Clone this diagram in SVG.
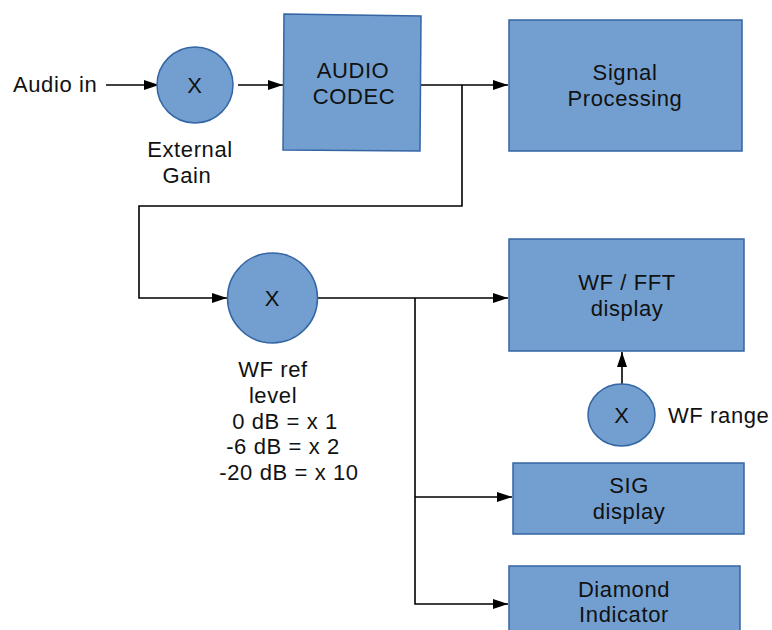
<svg xmlns="http://www.w3.org/2000/svg" width="772" height="630" viewBox="0 0 772 630">
<style>
.box{fill:#729fcf;stroke:#3465a4;stroke-width:1.5}
.t{font-family:"Liberation Sans",Arial,sans-serif;font-size:22px;letter-spacing:0.6px;fill:#111;text-anchor:middle}
.tl{font-family:"Liberation Sans",Arial,sans-serif;font-size:22px;letter-spacing:0.6px;fill:#111}
.ln{fill:none;stroke:#000;stroke-width:1.6}
</style>
<defs>
<marker id="ah" markerUnits="userSpaceOnUse" markerWidth="16" markerHeight="12" refX="15" refY="6" orient="auto">
<path d="M0,1 L15,6 L0,11 Z" fill="#000"/>
</marker>
</defs>
<rect width="772" height="630" fill="#fff"/>
<g id="connectors">
<path class="ln" d="M106,85 H159" marker-end="url(#ah)"/>
<path class="ln" d="M238,85 H283" marker-end="url(#ah)"/>
<path class="ln" d="M416,85 H508" marker-end="url(#ah)"/>
<path class="ln" d="M462,85 V206 H139 V298 H227" marker-end="url(#ah)"/>
<path class="ln" d="M318,298 H508" marker-end="url(#ah)"/>
<path class="ln" d="M415,298 V604 H508" marker-end="url(#ah)"/>
<path class="ln" d="M415,497 H512" marker-end="url(#ah)"/>
<path class="ln" d="M622,384 V352" marker-end="url(#ah)"/>
</g>
<g id="audio-in"><text class="tl" x="13" y="92">Audio in</text></g>
<g id="external-gain">
<circle class="box" cx="195" cy="85" r="38"/>
<text class="t" x="195" y="93">X</text>
<text class="t" x="190" y="157">External</text>
<text class="t" x="187" y="183">Gain</text>
</g>
<g id="audio-codec">
<polygon class="box" points="284,14 421,16 420,151 283,150"/>
<text class="t" x="353" y="78">AUDIO</text>
<text class="t" x="354" y="104">CODEC</text>
</g>
<g id="signal-processing">
<rect class="box" x="509" y="20" width="233" height="131"/>
<text class="t" x="625" y="80">Signal</text>
<text class="t" x="625" y="106">Processing</text>
</g>
<g id="wf-ref-level">
<circle class="box" cx="272.5" cy="298" r="45"/>
<text class="t" x="272.5" y="306">X</text>
<text class="t" x="273" y="377">WF ref</text>
<text class="t" x="273" y="403">level</text>
<text class="t" x="285" y="429">0 dB = x 1</text>
<text class="t" x="283" y="454">-6 dB = x 2</text>
<text class="t" x="289" y="480">-20 dB = x 10</text>
</g>
<g id="wf-fft-display">
<rect class="box" x="509" y="239" width="235" height="112"/>
<text class="t" x="627" y="290">WF / FFT</text>
<text class="t" x="627" y="316">display</text>
</g>
<g id="wf-range">
<ellipse class="box" cx="621.5" cy="415" rx="33.5" ry="31"/>
<text class="t" x="622" y="423">X</text>
<text class="tl" x="668" y="423">WF range</text>
</g>
<g id="sig-display">
<rect class="box" x="513" y="463" width="231" height="71"/>
<text class="t" x="629" y="493">SIG</text>
<text class="t" x="629" y="519">display</text>
</g>
<g id="diamond-indicator">
<rect class="box" x="509" y="566" width="231" height="70"/>
<text class="t" x="624" y="597">Diamond</text>
<text class="t" x="624" y="622">Indicator</text>
</g>
</svg>
